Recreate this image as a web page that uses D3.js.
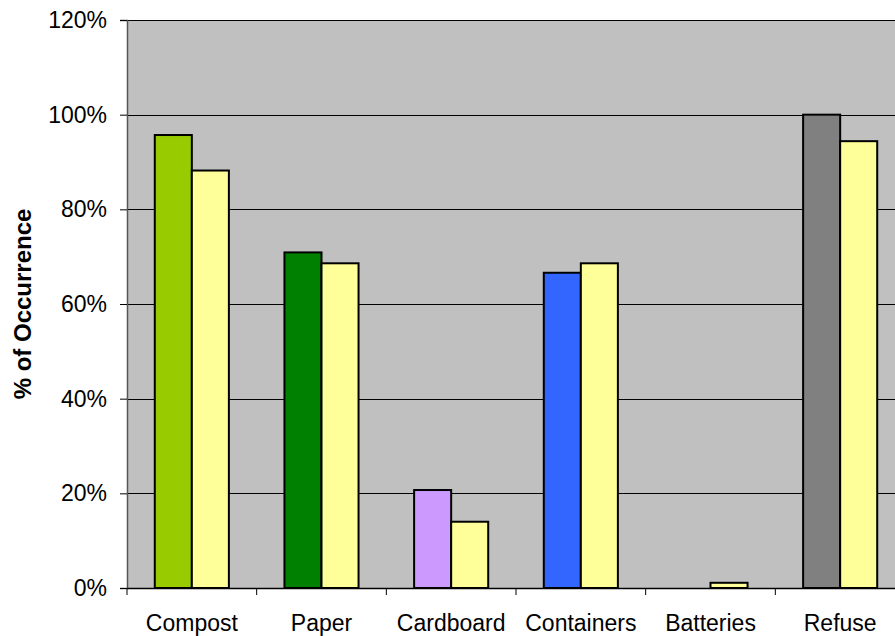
<!DOCTYPE html>
<html>
<head>
<meta charset="utf-8">
<script src="https://cdn.jsdelivr.net/npm/d3@7"></script>
<style>
  html, body { margin: 0; padding: 0; background: #fff; }
  svg { display: block; }
  text { font-family: "Liberation Sans", Arial, sans-serif; fill: #000; }
</style>
</head>
<body>
<svg id="chart" width="895" height="636"></svg>
<script>
// Waste stream categories and share of occurrence (%)
const categories = ["Compost", "Paper", "Cardboard", "Containers", "Batteries", "Refuse"];
const firstSeries = [95.7, 70.9, 20.7, 66.6, 0, 100];
const secondSeries = [88.2, 68.6, 14.0, 68.6, 1.1, 94.4];
const firstColors = ["#99CC00", "#008000", "#CC99FF", "#3366FF", "#3366FF", "#808080"];
const secondColor = "#FFFF99";
const yTicks = [0, 20, 40, 60, 80, 100, 120];

const svg = d3.select("#chart");
const plotLeft = 127, plotTop = 20, plotBottom = 588, plotRight = 905;
const labelFont = 23;

const x = d3.scaleBand().domain(categories).range([plotLeft, plotRight]).paddingInner(0).paddingOuter(0);
const y = d3.scaleLinear().domain([0, 120]).range([plotBottom, plotTop]);

// plot background
svg.append("rect")
  .attr("x", plotLeft).attr("y", plotTop)
  .attr("width", plotRight - plotLeft).attr("height", plotBottom - plotTop)
  .attr("fill", "#C0C0C0");

// horizontal gridlines
svg.append("g").selectAll("line")
  .data(yTicks.filter(d => d > 0))
  .join("line")
  .attr("x1", plotLeft).attr("x2", plotRight)
  .attr("y1", d => Math.round(y(d)) + 0.5).attr("y2", d => Math.round(y(d)) + 0.5)
  .attr("stroke", "#000").attr("stroke-width", 1);

// bars: gap width 150% of a bar
const bw = x.bandwidth() / 3.5;
const groups = svg.append("g").selectAll("g")
  .data(categories)
  .join("g")
  .attr("transform", d => `translate(${x(d) + bw * 0.75},0)`);

groups.each(function (c, i) {
  const g = d3.select(this);
  const vals = [
    { v: firstSeries[i], color: firstColors[i], off: 0 },
    { v: secondSeries[i], color: secondColor, off: bw }
  ];
  g.selectAll("rect")
    .data(vals.filter(d => d.v > 0))
    .join("rect")
    .attr("x", d => d.off)
    .attr("y", d => y(d.v))
    .attr("width", bw)
    .attr("height", d => y(0) - y(d.v))
    .attr("fill", d => d.color)
    .attr("stroke", "#000")
    .attr("stroke-width", 2);
});

// y axis
const yAxis = d3.axisLeft(y).tickValues(yTicks).tickFormat(d => d + "%").tickSize(7).tickPadding(13);
const ya = svg.append("g").attr("transform", `translate(${plotLeft},0)`).call(yAxis);
ya.select(".domain").attr("stroke", "#555").attr("stroke-width", 1.5);
ya.selectAll(".tick line").attr("stroke", "#000");
ya.selectAll(".tick text").attr("font-size", labelFont).attr("font-family", "Liberation Sans, Arial, sans-serif").attr("fill", "#000");

// x axis
const xAxis = d3.axisBottom(x).tickSize(0).tickPadding(27);
const xa = svg.append("g").attr("transform", `translate(0,${plotBottom})`).call(xAxis);
xa.select(".domain").attr("stroke", "#000").attr("stroke-width", 1.5);
xa.selectAll(".tick text").attr("font-size", labelFont).attr("font-family", "Liberation Sans, Arial, sans-serif").attr("fill", "#000");

// category separator ticks
svg.append("g").selectAll("line")
  .data(categories.concat(["end"]))
  .join("line")
  .attr("x1", (d, i) => plotLeft + i * x.bandwidth())
  .attr("x2", (d, i) => plotLeft + i * x.bandwidth())
  .attr("y1", plotBottom).attr("y2", plotBottom + 7)
  .attr("stroke", "#000");

// axis title
svg.append("text")
  .attr("transform", `translate(31,${(plotTop + plotBottom) / 2}) rotate(-90)`)
  .attr("text-anchor", "middle")
  .attr("font-size", 24)
  .attr("font-weight", "bold")
  .text("% of Occurrence");
</script>
</body>
</html>
